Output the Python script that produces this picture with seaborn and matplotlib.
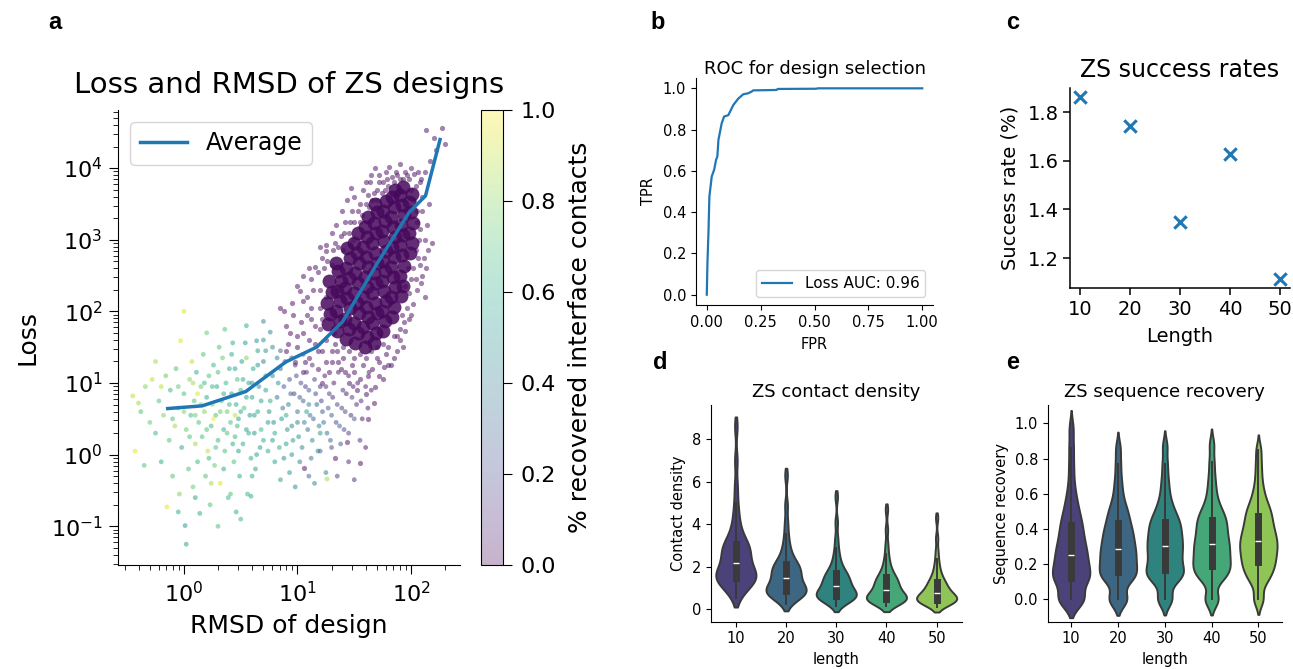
import numpy as np
import pandas as pd
import matplotlib
matplotlib.use("Agg")
import matplotlib.pyplot as plt
from matplotlib.colors import Normalize
from matplotlib.cm import ScalarMappable
import seaborn as sns

# ---------------- panel a : values
# (log10 RMSD, log10 loss, fraction of recovered interface contacts)
green_pts = [
    (-0.45, 0.82, 0.9), (-0.43, 0.05, 0.95), (-0.4, 0.72, 0.85), (-0.38, 0.6, 0.7), (-0.34, 0.95, 0.8),
    (-0.3, 0.45, 0.75), (-0.28, 1.05, 0.9), (-0.25, 0.3, 0.65), (-0.22, 0.75, 0.7), (-0.2, -0.1, 0.6),
    (-0.18, 0.55, 0.8), (-0.16, 1.1, 0.75), (-0.15, -0.73, 0.95), (-0.13, 0.2, 0.7), (-0.12, 0.9, 0.65),
    (-0.1, -0.3, 0.7), (-0.08, 0.4, 0.85), (-0.07, 1.2, 0.7), (-0.05, 0.65, 0.75), (-0.04, -0.55, 0.8),
    (-0.03, 1.59, 0.95), (-0.02, 0.1, 0.6), (0.0, 2.0, 0.95), (0.0, 0.85, 0.7), (0.01, -0.99, 0.5),
    (0.02, -1.25, 0.55), (0.02, 0.35, 0.75), (0.04, -0.2, 0.7), (0.05, 1.05, 0.8), (0.06, 0.55, 0.65),
    (0.07, 1.3, 0.9), (0.08, -0.45, 0.75), (0.09, 0.75, 0.7), (0.1, 0.15, 0.85), (0.11, 1.15, 0.6),
    (0.12, -0.1, 0.65), (0.13, 0.45, 0.7), (0.14, -0.82, 0.6), (0.15, 0.95, 0.75), (0.16, 0.25, 0.7),
    (0.17, 1.4, 0.7), (0.18, 0.6, 0.8), (0.19, -0.3, 0.7), (0.2, 0.8, 0.6), (0.21, 0.05, 0.9),
    (0.22, 1.1, 0.7), (0.23, -0.7, 0.7), (0.24, 0.4, 0.65), (0.25, 0.7, 0.8), (0.26, 1.25, 0.65),
    (0.27, -0.15, 0.75), (0.28, 0.55, 0.7), (0.29, 0.95, 0.6), (0.3, 0.2, 0.65), (0.31, 1.5, 0.7),
    (0.32, -0.4, 0.95), (0.33, 0.75, 0.7), (0.34, 1.35, 0.75), (0.35, 0.35, 0.6), (0.36, 0.05, 0.7),
    (0.37, 1.0, 0.65), (0.38, 0.6, 0.75), (0.39, -0.6, 0.65), (0.4, 1.2, 0.6), (0.41, 0.45, 0.7),
    (0.42, 0.85, 0.55), (0.43, 1.56, 0.6), (0.44, -0.1, 0.7), (0.45, 0.25, 0.65), (0.46, 0.7, 0.6),
    (0.47, 1.05, 0.7), (0.48, 0.5, 0.55), (0.49, -0.3, 0.6), (0.5, 0.9, 0.65), (0.51, 1.3, 0.55),
    (0.52, 0.15, 0.6), (0.53, 0.65, 0.7), (0.54, 1.56, 0.5), (0.55, 0.35, 0.55), (0.56, -0.55, 0.65),
    (0.57, 1.0, 0.6), (0.58, 0.55, 0.5), (0.59, -0.05, 0.6), (0.6, 0.8, 0.55), (0.61, 1.2, 0.6),
    (0.62, 0.3, 0.5), (0.63, -0.2, 0.55), (0.64, 1.59, 0.5), (0.65, 0.6, 0.6), (0.66, 0.95, 0.5),
    (0.67, 0.1, 0.55), (0.7, 1.86, 0.45), (0.76, 1.71, 0.45), (0.74, 0.45, 0.5), (0.72, 1.1, 0.55),
    (0.59, -0.58, 0.6), (0.41, -0.55, 0.7), (0.24, -0.4, 0.85), (0.5, -0.9, 0.65), (0.3, -1.0, 0.7),
    (0.1, -0.6, 0.55), (-0.05, -0.8, 0.6), (1.26, -0.34, 0.85), (-0.35, -0.15, 0.7), (-0.25, 1.3, 0.85),
    (0.36, 1.75, 0.7), (0.2, 1.7, 0.75), (0.55, 1.8, 0.6), (0.46, -0.8, 0.6),
    (0.1, 0.55, 0.75), (0.15, 0.7, 0.8), (0.2, 0.35, 0.7), (0.25, 0.95, 0.65), (0.28, 0.1, 0.7),
    (0.32, 0.6, 0.75), (0.35, 0.85, 0.6), (0.38, 0.3, 0.7), (0.4, 0.7, 0.65), (0.43, 0.15, 0.6),
    (0.45, 1.2, 0.55), (0.47, 0.4, 0.65), (0.5, 0.6, 0.6), (0.52, 1.05, 0.6), (0.55, 0.8, 0.55),
    (0.57, 0.3, 0.6), (0.6, 1.0, 0.5), (0.62, 0.55, 0.55), (0.65, 1.25, 0.5), (0.68, 0.75, 0.55),
    (0.7, 0.2, 0.6), (0.72, 1.45, 0.5), (0.05, 0.25, 0.7), (0.0, 0.6, 0.8), (-0.05, 0.95, 0.75),
    (-0.1, 0.5, 0.7), (0.18, 1.0, 0.65), (0.3, 1.15, 0.7), (0.42, 1.4, 0.6), (0.22, -0.05, 0.65),
    (0.35, -0.2, 0.6), (0.48, 0.05, 0.55), (0.6, -0.3, 0.6), (0.64, 0.0, 0.55), (0.08, 1.0, 0.85),
    (0.12, 0.85, 0.95), (0.26, 0.5, 1.0), (0.45, 0.55, 0.9), (0.55, 1.35, 0.8), (-0.2, 0.95, 0.9),
]
mixed_pts = [
    (0.72, 0.9, 0.55), (0.75, 0.6, 0.5), (0.78, 1.1, 0.45), (0.8, 0.3, 0.6), (0.82, 0.8, 0.35),
    (0.85, 1.2, 0.3), (0.86, 0.5, 0.5), (0.88, 0.95, 0.25), (0.9, 0.15, 0.55), (0.92, 0.7, 0.4),
    (0.93, 1.05, 0.2), (0.95, 0.4, 0.45), (0.97, 0.85, 0.15), (0.98, 1.25, 0.1), (1.0, 0.6, 0.35),
    (1.01, 0.25, 0.5), (1.03, 1.0, 0.2), (1.05, 0.75, 0.3), (1.06, 0.45, 0.4), (1.08, 1.15, 0.1),
    (1.1, 0.9, 0.25), (1.11, 0.55, 0.35), (1.13, 0.2, 0.45), (1.15, 1.05, 0.15), (1.17, 0.7, 0.3),
    (1.19, 0.4, 0.4), (1.2, 0.95, 0.1), (1.22, 0.6, 0.25), (1.24, 1.1, 0.05), (1.26, 0.3, 0.35),
    (1.28, 0.85, 0.15), (1.3, 0.55, 0.3), (1.32, 1.0, 0.05), (1.35, 0.7, 0.2), (1.37, 0.4, 0.3),
    (1.4, 0.9, 0.1), (1.42, 0.6, 0.2), (1.45, 1.1, 0.05), (1.48, 0.8, 0.15), (1.5, 0.5, 0.25),
    (1.53, 1.0, 0.05), (1.56, 0.75, 0.1), (1.6, 0.95, 0.05), (1.63, 1.15, 0.05), (0.68, 0.35, 0.65),
    (0.7, 1.3, 0.4), (0.74, 0.05, 0.6), (0.8, -0.1, 0.55), (0.88, -0.05, 0.45), (0.95, 0.0, 0.5),
    (1.02, -0.1, 0.4), (1.12, -0.05, 0.35), (1.2, 0.05, 0.3), (1.3, 0.1, 0.2), (1.38, 0.15, 0.25),
    (0.85, 1.45, 0.3), (0.95, 1.35, 0.2), (0.78, 1.5, 0.45), (0.7, 1.6, 0.5), (0.65, 1.45, 0.55),
    (1.25, -0.25, 0.4), (1.1, -0.3, 0.3), (0.93, -0.25, 0.5), (1.45, 0.3, 0.15), (1.55, 0.2, 0.1),
    (0.76, 0.75, 0.6), (0.79, 0.45, 0.45), (0.83, 1.0, 0.5), (0.84, 0.1, 0.6), (0.87, 0.65, 0.35),
    (0.89, 1.3, 0.25), (0.91, 0.35, 0.5), (0.94, 0.85, 0.3), (0.96, 0.2, 0.55), (0.99, 1.1, 0.2),
    (1.0, 0.45, 0.4), (1.02, 0.8, 0.25), (1.04, 0.1, 0.45), (1.07, 0.95, 0.15), (1.09, 0.35, 0.35),
    (1.1, 0.7, 0.45), (1.13, 1.25, 0.1), (1.14, 0.5, 0.3), (1.16, 0.85, 0.2), (1.18, 0.05, 0.4),
    (1.21, 0.75, 0.15), (1.23, 0.45, 0.35), (1.25, 0.95, 0.1), (1.27, 0.65, 0.25), (1.29, 0.2, 0.3),
    (1.31, 0.8, 0.1), (1.34, 0.45, 0.2), (1.36, 1.15, 0.05), (1.39, 0.65, 0.15), (1.41, 0.35, 0.2),
    (1.43, 0.85, 0.05), (1.47, 0.55, 0.1), (1.49, 0.95, 0.05), (1.52, 0.7, 0.1), (1.57, 0.5, 0.05),
    (1.62, 0.65, 0.05), (1.65, 0.9, 0.05), (0.98, -0.45, 0.45), (1.15, -0.4, 0.4), (1.35, -0.3, 0.15),
    (0.85, -0.35, 0.55), (1.45, -0.1, 0.1), (1.5, -0.35, 0.1), (1.6, 0.1, 0.05), (0.78, 0.2, 0.55),
    (0.82, 1.35, 0.4), (1.05, 1.4, 0.2), (0.9, 0.55, 0.6), (1.08, 0.6, 0.55), (1.2, 0.3, 0.5),
]
# low-recovery (purple) designs around the dense core
halo_pts = [
    (0.85, 2.05), (0.95, 2.12), (1.02, 2.28), (1.08, 2.2), (1.12, 2.45), (1.15, 2.62), (1.2, 2.3),
    (1.22, 2.75), (1.25, 2.92), (1.3, 2.65), (1.33, 2.95), (1.38, 3.05), (1.4, 2.85), (1.42, 3.25),
    (1.45, 3.1), (1.48, 3.4), (1.5, 3.25), (1.55, 3.5), (1.57, 3.35), (1.62, 3.62), (1.64, 3.8),
    (1.66, 3.55), (1.7, 3.7), (1.72, 3.9), (1.75, 3.8), (1.78, 3.95), (1.8, 3.75), (1.83, 3.88),
    (1.87, 3.95), (1.9, 3.85), (1.95, 3.95), (1.98, 3.85), (2.03, 3.92), (2.08, 3.8), (2.1, 3.6),
    (2.12, 3.95), (2.05, 3.4), (2.08, 3.15), (2.12, 3.0), (2.15, 2.85), (2.06, 2.75), (2.1, 2.5),
    (2.04, 2.45), (2.12, 2.2), (2.02, 2.1), (1.98, 1.9), (1.95, 1.72), (1.9, 1.6), (1.88, 1.45),
    (1.93, 1.5), (1.85, 1.35), (1.8, 1.25), (1.76, 1.22), (1.7, 1.35), (1.72, 1.1), (1.67, 0.72),
    (1.62, 0.5), (1.55, -0.12), (1.44, 0.17), (1.33, -0.04), (1.06, -0.19), (2.13, 4.53), (2.2, 4.42),
    (2.27, 4.56), (2.3, 4.33), (2.22, 4.25), (2.17, 4.1), (1.47, 3.72), (1.6, 3.8), (1.68, 4.0),
    (1.25, 2.84), (1.05, 2.5), (1.0, 1.5), (1.05, 1.7), (1.1, 1.35), (1.12, 1.9), (1.15, 1.55),
    (1.18, 1.2), (1.2, 1.75), (1.22, 1.45), (1.25, 1.6), (1.05, 1.15), (0.98, 1.3), (0.92, 1.55),
    (0.9, 1.8), (1.08, 1.95), (1.3, 1.3), (1.35, 1.45), (1.4, 1.35), (1.45, 1.45), (1.5, 1.35),
    (1.55, 1.4), (1.6, 1.35), (1.65, 1.45), (1.28, 1.15), (1.38, 1.2),
    (1.0, 2.35), (1.05, 2.15), (1.1, 2.6), (1.14, 2.3), (1.18, 2.55), (1.2, 2.9), (1.23, 2.6),
    (1.26, 2.7), (1.3, 3.1), (1.31, 2.85), (1.34, 3.2), (1.36, 2.9), (1.39, 3.4), (1.41, 3.1),
    (1.44, 3.55), (1.46, 3.25), (1.49, 3.0), (1.5, 3.6), (1.53, 3.4), (1.55, 3.25), (1.58, 3.7),
    (1.6, 3.5), (1.63, 3.45), (1.65, 3.9), (1.67, 3.65), (1.7, 3.55), (1.72, 3.8), (1.74, 3.65),
    (1.77, 3.7), (1.79, 3.85), (1.81, 4.02), (1.85, 3.8), (1.88, 3.9), (1.9, 4.05), (1.93, 3.85),
    (1.96, 3.9), (2.0, 4.0), (2.04, 3.75), (2.06, 3.95), (2.09, 3.85),
    (2.0, 3.7), (2.03, 3.55), (2.05, 3.25), (2.07, 3.0), (2.04, 2.85), (2.08, 2.65), (2.02, 2.6),
    (2.05, 2.3), (2.09, 2.4), (2.0, 2.45), (1.98, 2.25), (1.96, 2.05), (2.0, 1.95), (1.94, 1.85),
    (1.9, 1.75), (1.92, 1.95), (1.88, 1.65), (1.95, 2.35), (1.97, 2.6), (2.11, 2.75), (2.14, 3.2),
    (2.1, 3.4), (2.16, 3.5), (2.13, 2.6), (2.18, 2.95),
    (1.8, 1.5), (1.85, 1.65), (1.78, 1.4), (1.82, 1.25), (1.75, 1.55), (1.7, 1.5), (1.72, 1.3),
    (1.66, 1.2), (1.62, 1.1), (1.58, 1.25), (1.68, 0.95), (1.75, 1.05), (1.6, 0.85), (1.55, 1.05),
    (1.5, 1.15), (1.52, 0.9), (1.45, 1.0), (1.48, 1.25), (1.42, 1.15), (1.4, 1.5), (1.36, 1.3),
    (1.33, 1.55), (1.3, 1.45), (1.32, 1.7), (1.25, 1.3), (1.22, 1.0), (1.18, 1.45), (1.15, 1.8),
    (1.12, 2.05), (1.1, 1.6), (1.07, 1.3), (1.03, 1.85), (1.0, 1.65), (0.96, 1.95), (0.93, 1.7),
    (0.9, 1.45), (0.88, 2.0), (1.2, 2.05), (1.25, 2.2), (1.22, 1.9),
]
# saturated purple core of the cloud
core_pts = [
    (1.27, 1.82), (1.29, 1.97), (1.26, 2.12), (1.30, 2.27), (1.28, 2.42),
    (1.35, 1.72), (1.37, 1.86), (1.34, 2.0), (1.37, 2.14), (1.35, 2.28), (1.38, 2.42), (1.36, 2.56), (1.34, 2.68),
    (1.43, 1.62), (1.45, 1.76), (1.42, 1.9), (1.46, 2.04), (1.44, 2.18), (1.42, 2.32), (1.45, 2.46),
    (1.43, 2.6), (1.46, 2.74), (1.44, 2.88),
    (1.51, 1.56), (1.53, 1.70), (1.50, 1.84), (1.54, 1.98), (1.52, 2.12), (1.50, 2.26), (1.53, 2.40),
    (1.51, 2.54), (1.54, 2.68), (1.52, 2.82), (1.50, 2.96), (1.53, 3.10),
    (1.59, 1.5), (1.61, 1.64), (1.58, 1.78), (1.62, 1.92), (1.60, 2.06), (1.58, 2.2), (1.61, 2.34),
    (1.59, 2.48), (1.62, 2.62), (1.60, 2.76), (1.58, 2.9), (1.61, 3.04), (1.59, 3.18), (1.62, 3.32),
    (1.67, 1.56), (1.69, 1.70), (1.66, 1.84), (1.70, 1.98), (1.68, 2.12), (1.66, 2.26), (1.69, 2.40),
    (1.67, 2.54), (1.70, 2.68), (1.68, 2.82), (1.66, 2.96), (1.69, 3.10), (1.67, 3.24), (1.70, 3.38), (1.68, 3.50),
    (1.75, 1.72), (1.77, 1.86), (1.74, 2.0), (1.78, 2.14), (1.76, 2.28), (1.74, 2.42), (1.77, 2.56),
    (1.75, 2.70), (1.78, 2.84), (1.76, 2.98), (1.74, 3.12), (1.77, 3.26), (1.75, 3.40), (1.78, 3.54),
    (1.83, 1.92), (1.85, 2.06), (1.82, 2.2), (1.86, 2.34), (1.84, 2.48), (1.82, 2.62), (1.85, 2.76),
    (1.83, 2.9), (1.86, 3.04), (1.84, 3.18), (1.82, 3.32), (1.85, 3.46), (1.83, 3.60), (1.86, 3.70),
    (1.91, 2.22), (1.93, 2.36), (1.90, 2.5), (1.94, 2.64), (1.92, 2.78), (1.90, 2.92), (1.93, 3.06),
    (1.91, 3.2), (1.94, 3.34), (1.92, 3.48), (1.90, 3.62), (1.93, 3.74),
    (1.99, 2.82), (2.01, 2.96), (1.98, 3.1), (2.02, 3.24), (2.0, 3.38), (1.98, 3.52), (2.01, 3.64),
]
core_recovery = 0.02
avg_rmsd = [0.72, 1.45, 3.5, 7.9, 14.8, 25, 50, 96, 134, 180]
avg_loss = [4.4, 4.8, 7.6, 19.7, 31.8, 72, 460, 2400, 4100, 25000]

# ---------------- panel b : ROC
roc_fpr = [0, 0.003, 0.008, 0.012, 0.023, 0.034, 0.043, 0.049, 0.054, 0.069, 0.08, 0.1, 0.123,
           0.146, 0.169, 0.192, 0.208, 0.215, 0.323, 0.33, 0.508, 0.515, 1.0]
roc_tpr = [0, 0.153, 0.31, 0.476, 0.573, 0.605, 0.653, 0.67, 0.75, 0.83, 0.863, 0.87, 0.919,
           0.95, 0.971, 0.976, 0.984, 0.99, 0.992, 0.997, 0.998, 1.0, 1.0]

# ---------------- panel c : success rates
lengths = [10, 20, 30, 40, 50]
success_rate = [1.862, 1.744, 1.347, 1.627, 1.114]

# ---------------- panels d, e : per-length values
contact_density = {
    "10": [0.55, 0.8, 0.97, 1.09, 1.18, 1.26, 1.32, 1.38, 1.43, 1.46, 1.50, 1.55, 1.60, 1.66, 1.72, 1.78,
           1.85, 1.93, 2.02, 2.12, 2.26, 2.36, 2.46, 2.56, 2.66, 2.76, 2.84, 2.92, 2.98, 3.05, 3.15, 3.3,
           3.5, 3.75, 4.05, 4.45, 5.0, 5.8, 7.0, 8.6],
    "20": [0.26, 0.45, 0.56, 0.63, 0.68, 0.72, 0.75, 0.78, 0.81, 0.83, 0.86, 0.9, 0.95, 1.0, 1.06, 1.12,
           1.2, 1.27, 1.34, 1.41, 1.5, 1.58, 1.65, 1.72, 1.79, 1.86, 1.93, 2.0, 2.04, 2.1, 2.2, 2.32,
           2.46, 2.64, 2.86, 3.15, 3.55, 4.1, 4.9, 6.3],
    "30": [0.17, 0.32, 0.41, 0.46, 0.5, 0.53, 0.56, 0.58, 0.6, 0.62, 0.65, 0.68, 0.72, 0.76, 0.8, 0.85,
           0.9, 0.95, 1.01, 1.07, 1.13, 1.19, 1.25, 1.31, 1.37, 1.43, 1.5, 1.56, 1.62, 1.68, 1.76, 1.86,
           1.98, 2.13, 2.32, 2.56, 2.88, 3.35, 4.1, 5.3],
    "40": [0.15, 0.25, 0.31, 0.35, 0.38, 0.41, 0.43, 0.45, 0.47, 0.49, 0.51, 0.54, 0.57, 0.6, 0.64, 0.68,
           0.72, 0.77, 0.82, 0.88, 0.94, 1.0, 1.06, 1.12, 1.18, 1.24, 1.3, 1.36, 1.42, 1.48, 1.56, 1.65,
           1.76, 1.9, 2.07, 2.3, 2.6, 3.05, 3.75, 4.7],
    "50": [0.11, 0.2, 0.26, 0.3, 0.33, 0.36, 0.38, 0.4, 0.42, 0.44, 0.46, 0.48, 0.5, 0.53, 0.56, 0.59,
           0.62, 0.66, 0.7, 0.73, 0.77, 0.82, 0.87, 0.92, 0.98, 1.04, 1.1, 1.16, 1.22, 1.28, 1.36, 1.45,
           1.56, 1.69, 1.86, 2.07, 2.35, 2.75, 3.35, 4.3],
}
seq_recovery = {
    "10": [0, 0, 0, 0, 0, 0, 0.09, 0.1, 0.11, 0.115, 0.12, 0.13, 0.145, 0.16, 0.175, 0.19, 0.2, 0.215,
           0.23, 0.245, 0.26, 0.275, 0.29, 0.305, 0.32, 0.34, 0.36, 0.38, 0.4, 0.42, 0.44, 0.465, 0.49,
           0.52, 0.56, 0.6, 0.67, 0.76, 0.86, 0.97],
    "20": [0, 0, 0, 0, 0.09, 0.11, 0.12, 0.13, 0.14, 0.15, 0.16, 0.175, 0.19, 0.2, 0.215, 0.23, 0.24,
           0.255, 0.265, 0.28, 0.292, 0.305, 0.32, 0.335, 0.35, 0.365, 0.38, 0.395, 0.41, 0.43, 0.45,
           0.47, 0.49, 0.515, 0.54, 0.58, 0.63, 0.69, 0.77, 0.86],
    "30": [0, 0, 0, 0.08, 0.11, 0.12, 0.13, 0.14, 0.15, 0.16, 0.17, 0.185, 0.2, 0.215, 0.23, 0.245,
           0.26, 0.27, 0.285, 0.3, 0.31, 0.325, 0.34, 0.35, 0.365, 0.38, 0.395, 0.41, 0.425, 0.44, 0.45,
           0.47, 0.49, 0.515, 0.54, 0.58, 0.63, 0.69, 0.77, 0.87],
    "40": [0, 0, 0, 0.1, 0.12, 0.13, 0.14, 0.16, 0.17, 0.18, 0.19, 0.205, 0.215, 0.23, 0.24, 0.255,
           0.27, 0.28, 0.295, 0.305, 0.32, 0.33, 0.345, 0.36, 0.375, 0.39, 0.405, 0.42, 0.435, 0.45,
           0.465, 0.48, 0.5, 0.52, 0.55, 0.59, 0.64, 0.7, 0.78, 0.88],
    "50": [0, 0, 0.08, 0.11, 0.13, 0.14, 0.16, 0.18, 0.19, 0.2, 0.215, 0.23, 0.24, 0.255, 0.27, 0.28,
           0.29, 0.305, 0.315, 0.325, 0.34, 0.35, 0.365, 0.375, 0.39, 0.405, 0.42, 0.435, 0.45, 0.47,
           0.485, 0.5, 0.52, 0.54, 0.565, 0.6, 0.64, 0.7, 0.77, 0.85],
}

blue = "#1f77b4"
fig = plt.figure(figsize=(12.93, 6.69), dpi=100)

ax_a = fig.add_axes([0.0916, 0.1555, 0.2642, 0.680])
cax = fig.add_axes([0.372, 0.1555, 0.017, 0.680])
ax_b = fig.add_axes([0.5383, 0.5441, 0.1833, 0.3393])
ax_c = fig.add_axes([0.8275, 0.5695, 0.1701, 0.299])
ax_d = fig.add_axes([0.5497, 0.0707, 0.1941, 0.3239])
ax_e = fig.add_axes([0.8103, 0.0707, 0.181, 0.3239])

# ---- a
ax_a.set_xscale("log")
ax_a.set_yscale("log")
g = np.array(green_pts).T
m = np.array(mixed_pts).T
h = np.array(halo_pts).T
c = np.array(core_pts).T
purple = plt.get_cmap("viridis")(core_recovery)
sns.scatterplot(x=10 ** g[0], y=10 ** g[1], hue=g[2], palette="viridis", hue_norm=(0, 1),
                s=12, alpha=0.5, linewidth=0, legend=False, ax=ax_a)
sns.scatterplot(x=10 ** c[0], y=10 ** c[1], color=purple, s=100, alpha=0.85, linewidth=0, ax=ax_a)
sns.scatterplot(x=10 ** h[0], y=10 ** h[1], color=purple, s=14, alpha=0.5, linewidth=0, ax=ax_a)
sns.scatterplot(x=10 ** m[0], y=10 ** m[1], hue=m[2], palette="viridis", hue_norm=(0, 1),
                s=12, alpha=0.5, linewidth=0, legend=False, ax=ax_a)
sns.lineplot(x=avg_rmsd, y=avg_loss, color=blue, lw=2.5, label="Average", sort=False, ax=ax_a)
ax_a.set_xlim(0.265, 270)
ax_a.set_ylim(10 ** -1.54, 10 ** 4.81)
ax_a.set_title("Loss and RMSD of ZS designs", fontsize=21, pad=12)
ax_a.set_xlabel("RMSD of design", fontsize=18, labelpad=6)
ax_a.set_ylabel("Loss", fontsize=18, labelpad=8)
ax_a.tick_params(which="major", labelsize=16, length=6.5, pad=5)
ax_a.tick_params(which="minor", length=3.8)
ax_a.legend(loc="upper left", fontsize=17)
sns.despine(ax=ax_a)

sm = ScalarMappable(norm=Normalize(0, 1), cmap="viridis")
cb = fig.colorbar(sm, cax=cax, alpha=0.3)
cb.set_label("% recovered interface contacts", fontsize=18, labelpad=9)
cb.ax.tick_params(labelsize=16, length=6.5, pad=6)

# ---- b
sns.lineplot(x=roc_fpr, y=roc_tpr, color=blue, lw=1.6, label="Loss AUC: 0.96", sort=False, ax=ax_b)
ax_b.set_xlim(-0.05, 1.05)
ax_b.set_ylim(-0.05, 1.05)
ax_b.set_xticks([0, 0.25, 0.5, 0.75, 1.0])
ax_b.set_xlabel("FPR", fontsize=10.5, labelpad=5)
ax_b.set_ylabel("TPR", fontsize=10.5, labelpad=5)
ax_b.set_title("ROC for design selection", fontsize=13, pad=3)
ax_b.tick_params(labelsize=10.5)
ax_b.legend(loc="lower right", fontsize=11)
sns.despine(ax=ax_b)

# ---- c
sns.scatterplot(x=lengths, y=success_rate, marker="x", s=80, linewidth=2.2, color=blue, ax=ax_c)
ax_c.set_xticks(lengths)
ax_c.set_yticks([1.2, 1.4, 1.6, 1.8])
ax_c.set_xlabel("Length", fontsize=14, labelpad=6)
ax_c.set_ylabel("Success rate (%)", fontsize=14, labelpad=6)
ax_c.set_title("ZS success rates", fontsize=17, pad=8)
ax_c.tick_params(labelsize=14, length=4.8, width=1.1)
for s in ax_c.spines.values():
    s.set_linewidth(1.1)
sns.despine(ax=ax_c)

# ---- d, e
cd_df = pd.DataFrame([(k, v) for k, vals in contact_density.items() for v in vals],
                     columns=["length", "Contact density"])
sr_df = pd.DataFrame([(k, v) for k, vals in seq_recovery.items() for v in vals],
                     columns=["length", "Sequence recovery"])
vkw = dict(x="length", hue="length", palette="viridis", legend=False, linewidth=1.4,
           linecolor="#3a3a3a", inner_kws=dict(box_width=5, whis_width=1.4))
sns.violinplot(data=cd_df, y="Contact density", bw_adjust=0.55, cut=1, ax=ax_d, **vkw)
sns.violinplot(data=sr_df, y="Sequence recovery", bw_adjust=0.45, ax=ax_e, **vkw)
ax_d.set_ylim(-0.58, 9.6)
ax_d.set_yticks([0, 2, 4, 6, 8])
ax_e.set_ylim(-0.127, 1.105)
ax_e.set_yticks([0.0, 0.2, 0.4, 0.6, 0.8, 1.0])
ax_d.set_title("ZS contact density", fontsize=13, pad=6)
ax_e.set_title("ZS sequence recovery", fontsize=13, pad=6)
for ax in (ax_d, ax_e):
    ax.tick_params(labelsize=10.5)
    ax.xaxis.label.set_size(10.5)
    ax.yaxis.label.set_size(10.5)
    sns.despine(ax=ax)

# panel letters
for x, y, t in [(0.0425, 0.967, "a"), (0.509, 0.967, "b"), (0.783, 0.967, "c"),
                (0.511, 0.458, "d"), (0.783, 0.458, "e")]:
    fig.text(x, y, t, fontsize=17, fontweight="bold", family=["Liberation Sans", "DejaVu Sans"],
             ha="center", va="center")

fig.savefig("out.png", dpi=100)
